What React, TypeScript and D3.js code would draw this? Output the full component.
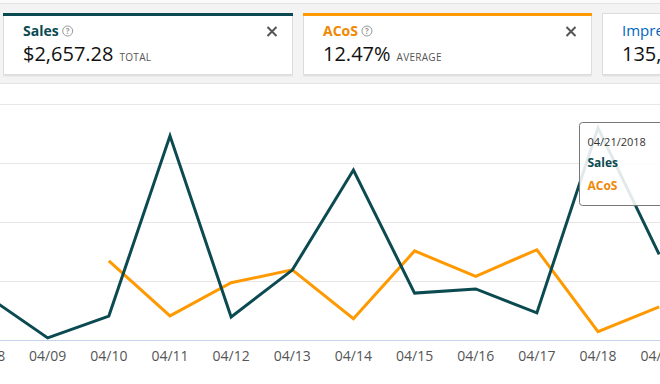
import * as d3 from 'd3';
import { useEffect, useRef } from 'react';

// dates shown on the x axis (2018)
const days = ['04/08', '04/09', '04/10', '04/11', '04/12', '04/13', '04/14', '04/15', '04/16', '04/17', '04/18', '04/19'];
// daily sales in dollars
const sales = [150, 7, 81, 692, 78, 237, 576, 159, 173, 92, 719, 290];
// daily ACoS in percent (no value before 04/10)
const acos = [null, null, 13.4, 4.1, 9.7, 11.9, 3.6, 15.1, 10.8, 15.3, 1.4, 5.6];
// y grid values (sales axis)
const salesTicks = [0, 200, 400, 600, 800];

const SALES_COLOR = '#0b4a51';
const ACOS_COLOR = '#ff9900';
const FONT = '"Open Sans", "Noto Sans", sans-serif';

export default function App() {
  const svgRef = useRef<SVGSVGElement>(null);

  useEffect(() => {
    if (!svgRef.current) return;
    const svg = d3.select(svgRef.current);
    svg.selectAll('*').remove();

    const width = 660;
    const height = 384;
    const parse = d3.timeParse('%m/%d/%Y');
    const dates = days.map((d) => parse(`${d}/2018`) as Date);

    // header strip
    svg.append('rect').attr('x', 0).attr('y', 0).attr('width', width).attr('height', 84).attr('fill', '#fafafa');
    svg.append('rect').attr('x', 0).attr('y', 3).attr('width', width).attr('height', 80).attr('fill', '#f3f3f3');
    svg.append('line').attr('x1', 0).attr('x2', width).attr('y1', 3.5).attr('y2', 3.5).attr('stroke', '#e3e3e3');
    svg.append('line').attr('x1', 0).attr('x2', width).attr('y1', 83.5).attr('y2', 83.5).attr('stroke', '#e3e3e3');

    const cards = [
      { x: 3, w: 290, title: 'Sales', value: '$2,657.28', unit: 'TOTAL', color: SALES_COLOR, bar: SALES_COLOR, close: true },
      { x: 303, w: 289, title: 'ACoS', value: '12.47%', unit: 'AVERAGE', color: '#f08804', bar: ACOS_COLOR, close: true },
      { x: 602, w: 120, title: 'Impressions', value: '135,000', unit: '', color: '#0066c0', bar: null, close: false },
    ];

    cards.forEach((c) => {
      const g = svg.append('g').attr('transform', `translate(${c.x},13)`);
      g.append('rect').attr('x', 0.5).attr('y', 1.5).attr('width', c.w - 1).attr('height', 62).attr('fill', '#e2e2e2');
      g.append('rect')
        .attr('x', 0.5)
        .attr('y', 0.5)
        .attr('width', c.w - 1)
        .attr('height', 61)
        .attr('fill', '#fff')
        .attr('stroke', '#dcdcdc');
      if (c.bar) g.append('rect').attr('x', 0).attr('y', 0).attr('width', c.w).attr('height', 3).attr('fill', c.bar);

      const title = g
        .append('text')
        .attr('x', 20)
        .attr('y', 23)
        .attr('fill', c.color)
        .style('font-family', FONT)
        .style('font-size', c.bar ? '14px' : '15px')
        .style('font-weight', c.bar ? 700 : 400)
        .text(c.title);
      const value = g
        .append('text')
        .attr('x', 20)
        .attr('y', 48)
        .attr('fill', '#111')
        .style('font-family', FONT)
        .style('font-size', '20px')
        .text(c.value);

      if (c.unit) {
        const vw = (value.node() as SVGTextElement).getComputedTextLength();
        g.append('text')
          .attr('x', 20 + vw + 6)
          .attr('y', 48)
          .attr('fill', '#555')
          .style('font-family', FONT)
          .style('font-size', '10px')
          .style('letter-spacing', '0.3px')
          .text(c.unit);
      }

      if (c.close) {
        const tw = (title.node() as SVGTextElement).getComputedTextLength();
        const hx = 20 + tw + 9;
        g.append('circle').attr('cx', hx).attr('cy', 18).attr('r', 5).attr('fill', 'none').attr('stroke', '#999').attr('stroke-width', 1);
        g.append('text')
          .attr('x', hx)
          .attr('y', 21)
          .attr('text-anchor', 'middle')
          .attr('fill', '#999')
          .style('font-family', FONT)
          .style('font-size', '8px')
          .style('font-weight', 700)
          .text('?');

        const cx = c.w - 21;
        const cy = 18.5;
        g.append('path')
          .attr('d', `M${cx - 4.5},${cy - 4.5}L${cx + 4.5},${cy + 4.5}M${cx + 4.5},${cy - 4.5}L${cx - 4.5},${cy + 4.5}`)
          .attr('stroke', '#555')
          .attr('stroke-width', 2);
      }
    });

    // chart scales
    const x = d3
      .scaleTime()
      .domain([dates[1], dates[10]])
      .range([47.7, 598]);

    const y = d3.scaleLinear().domain([0, 800]).range([340, 104]);
    const yAcos = d3.scaleLinear().domain([0, 40]).range([340, 104]);

    // grid
    svg
      .append('g')
      .selectAll('line')
      .data(salesTicks.slice(1))
      .enter()
      .append('line')
      .attr('x1', 0)
      .attr('x2', width)
      .attr('y1', (d) => Math.round(y(d)) + 0.5)
      .attr('y2', (d) => Math.round(y(d)) + 0.5)
      .attr('stroke', '#e7e7e7');

    svg
      .append('line')
      .attr('x1', 0)
      .attr('x2', width)
      .attr('y1', y(0) + 0.5)
      .attr('y2', y(0) + 0.5)
      .attr('stroke', '#c4d5ea');

    // x labels
    svg
      .append('g')
      .selectAll('text')
      .data(dates)
      .enter()
      .append('text')
      .attr('x', (d) => x(d))
      .attr('y', 361)
      .attr('text-anchor', 'middle')
      .attr('fill', '#555')
      .style('font-family', FONT)
      .style('font-size', '14px')
      .text((d) => d3.timeFormat('%m/%d')(d));

    // lines
    const salesLine = d3
      .line<number>()
      .x((_, i) => x(dates[i]))
      .y((d) => y(d));

    const acosLine = d3
      .line<number | null>()
      .defined((d) => d !== null)
      .x((_, i) => x(dates[i]))
      .y((d) => yAcos(d as number));

    svg
      .append('path')
      .datum(acos)
      .attr('fill', 'none')
      .attr('stroke', ACOS_COLOR)
      .attr('stroke-width', 3)
      .attr('stroke-linejoin', 'miter')
      .attr('d', acosLine);

    svg
      .append('path')
      .datum(sales)
      .attr('fill', 'none')
      .attr('stroke', SALES_COLOR)
      .attr('stroke-width', 3)
      .attr('stroke-linejoin', 'miter')
      .attr('d', salesLine);

    // tooltip
    const tip = svg.append('g').attr('transform', 'translate(579,122)');
    tip
      .append('rect')
      .attr('x', 0.5)
      .attr('y', 0.5)
      .attr('width', 100)
      .attr('height', 83)
      .attr('rx', 3)
      .attr('fill', '#fff')
      .attr('fill-opacity', 0.88)
      .attr('stroke', '#777');
    tip
      .append('text')
      .attr('x', 8.5)
      .attr('y', 24)
      .attr('fill', '#333')
      .style('font-family', FONT)
      .style('font-size', '11px')
      .text('04/21/2018');
    tip
      .append('text')
      .attr('x', 8.5)
      .attr('y', 45)
      .attr('fill', SALES_COLOR)
      .style('font-family', FONT)
      .style('font-size', '12px')
      .style('font-weight', 700)
      .text('Sales');
    tip
      .append('text')
      .attr('x', 8.5)
      .attr('y', 68)
      .attr('fill', '#f08804')
      .style('font-family', FONT)
      .style('font-size', '12px')
      .style('font-weight', 700)
      .text('ACoS');
  }, []);

  return (
    <div style={{ position: 'fixed', left: 0, top: 0, width: 660, height: 384, background: '#fff' }}>
      <svg ref={svgRef} width={660} height={384} style={{ display: 'block' }} />
    </div>
  );
}
